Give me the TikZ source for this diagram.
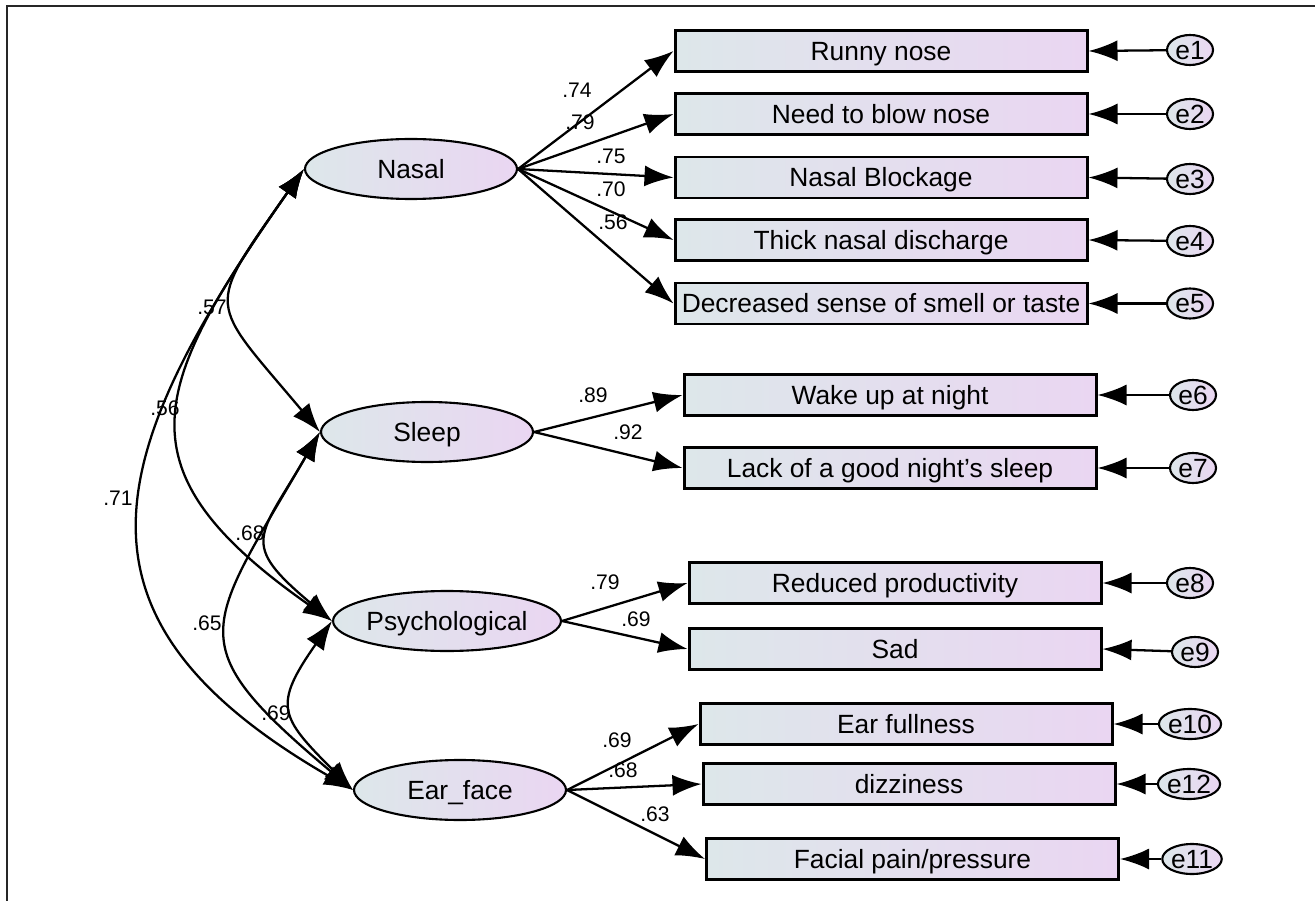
\documentclass[tikz,border=0pt]{standalone}
\usepackage{fontspec}
\setmainfont{Liberation Sans}
\usetikzlibrary{arrows.meta}
\usetikzlibrary{shapes.geometric}
\pgfdeclarelayer{edgelayer}
\pgfdeclarelayer{nodelayer}
\pgfsetlayers{edgelayer,nodelayer,main}
\definecolor{shadeleft}{RGB}{221,231,234}
\definecolor{shaderight}{RGB}{234,214,242}
\tikzstyle{none}=[inner sep=0pt]
\tikzstyle{weight}=[inner sep=0pt, font=\fontsize{12}{14}\selectfont]
\tikzstyle{latent}=[ellipse, draw=black, line width=1.2pt, minimum width=4.24cm, minimum height=1.2cm, inner sep=0pt, text height=10.7pt, text depth=0pt, left color=shadeleft, right color=shaderight, font=\fontsize{15}{18}\selectfont]
\tikzstyle{observed}=[rectangle, draw=black, line width=1.7pt, minimum width=8.24cm, minimum height=0.82cm, inner sep=0pt, text height=10.7pt, text depth=0pt, left color=shadeleft, right color=shaderight, font=\fontsize{15}{18}\selectfont]
\tikzstyle{residual}=[ellipse, draw=black, line width=1.2pt, minimum width=0.92cm, minimum height=0.6cm, inner sep=0pt, text height=10.7pt, text depth=0pt, left color=shadeleft, right color=shaderight, font=\fontsize{15}{18}\selectfont]
\tikzstyle{loading}=[-{Latex[length=0.58cm,width=0.42cm]}, draw=black, line width=1.3pt]
\tikzstyle{covariance}=[{Latex[length=0.58cm,width=0.42cm]}-{Latex[length=0.58cm,width=0.42cm]}, draw=black, line width=1.3pt]
\tikzstyle{frame}=[draw=black!85, line width=1.2pt]

\begin{document}
\begin{tikzpicture}
	\useasboundingbox (0, 0) rectangle (26.3, -18.02);
	\begin{pgfonlayer}{nodelayer}
		\node [style=latent] (0) at (8.22, -3.38) {Nasal};
		\node [style=latent] (1) at (8.54, -8.64) {Sleep};
		\node [style=latent] (2) at (8.94, -12.42) {Psychological};
		\node [style=latent] (3) at (9.2, -15.8) {Ear\_face};
		\node [style=observed] (4) at (17.62, -1.02) {Runny nose};
		\node [style=observed] (5) at (17.62, -2.28) {Need to blow nose};
		\node [style=observed] (6) at (17.62, -3.55) {Nasal Blockage};
		\node [style=observed] (7) at (17.62, -4.8) {Thick nasal discharge};
		\node [style=observed] (8) at (17.62, -6.07) {Decreased sense of smell or taste};
		\node [style=observed] (9) at (17.8, -7.9) {Wake up at night};
		\node [style=observed] (10) at (17.8, -9.36) {Lack of a good night’s sleep};
		\node [style=observed] (11) at (17.9, -11.66) {Reduced productivity};
		\node [style=observed] (12) at (17.9, -12.98) {Sad};
		\node [style=observed] (13) at (18.12, -14.48) {Ear fullness};
		\node [style=observed] (14) at (18.18, -15.68) {dizziness};
		\node [style=observed] (15) at (18.25, -17.18) {Facial pain/pressure};
		\node [style=residual] (16) at (23.8, -1.0) {e1};
		\node [style=residual] (17) at (23.8, -2.28) {e2};
		\node [style=residual] (18) at (23.8, -3.58) {e3};
		\node [style=residual] (19) at (23.8, -4.82) {e4};
		\node [style=residual] (20) at (23.8, -6.07) {e5};
		\node [style=residual] (21) at (23.86, -7.9) {e6};
		\node [style=residual] (22) at (23.86, -9.36) {e7};
		\node [style=residual] (23) at (23.8, -11.66) {e8};
		\node [style=residual] (24) at (23.9, -13.04) {e9};
		\node [style=residual] (25) at (23.8, -14.48) {e10};
		\node [style=residual] (26) at (23.78, -15.68) {e12};
		\node [style=residual] (27) at (23.84, -17.18) {e11};
		\node [style=weight] (28) at (11.54, -1.8) {.74};
		\node [style=weight] (29) at (11.6, -2.44) {.79};
		\node [style=weight] (30) at (12.22, -3.12) {.75};
		\node [style=weight] (31) at (12.22, -3.78) {.70};
		\node [style=weight] (32) at (12.26, -4.44) {.56};
		\node [style=weight] (33) at (11.86, -7.9) {.89};
		\node [style=weight] (34) at (12.56, -8.64) {.92};
		\node [style=weight] (35) at (12.1, -11.64) {.79};
		\node [style=weight] (36) at (12.72, -12.38) {.69};
		\node [style=weight] (37) at (12.34, -14.8) {.69};
		\node [style=weight] (38) at (12.46, -15.4) {.68};
		\node [style=weight] (39) at (13.1, -16.28) {.63};
		\node [style=weight] (40) at (4.24, -6.14) {.57};
		\node [style=weight] (41) at (3.3, -8.16) {.56};
		\node [style=weight] (42) at (2.36, -9.96) {.71};
		\node [style=weight] (43) at (5.0, -10.66) {.68};
		\node [style=weight] (44) at (4.14, -12.46) {.65};
		\node [style=weight] (45) at (5.52, -14.26) {.69};
		\coordinate (46) at (0.14, -0.12);
		\coordinate (47) at (26.3, -0.12);
		\coordinate (48) at (0.14, -18.02);
	\end{pgfonlayer}
	\begin{pgfonlayer}{edgelayer}
		\draw [style=frame] (48) -- (46) -- (47);
		\draw [style=loading] (0.east) to (4.west);
		\draw [style=loading] (0.east) to (5.west);
		\draw [style=loading] (0.east) to (6.west);
		\draw [style=loading] (0.east) to (7.west);
		\draw [style=loading] (0.east) to (8.west);
		\draw [style=loading] (1.east) to (9.west);
		\draw [style=loading] (1.east) to (10.west);
		\draw [style=loading] (2.east) to (11.west);
		\draw [style=loading] (2.east) to (12.west);
		\draw [style=loading] (3.east) to (13.west);
		\draw [style=loading] (3.east) to (14.west);
		\draw [style=loading] (3.east) to (15.west);
		\draw [style=loading] (16) to (4.east);
		\draw [style=loading] (17) to (5.east);
		\draw [style=loading] (18) to (6.east);
		\draw [style=loading] (19) to (7.east);
		\draw [style=loading] (20) to (8.east);
		\draw [style=loading] (21) to (9.east);
		\draw [style=loading] (22) to (10.east);
		\draw [style=loading] (23) to (11.east);
		\draw [style=loading] (24) to (12.east);
		\draw [style=loading] (25) to (13.east);
		\draw [style=loading] (26) to (14.east);
		\draw [style=loading] (27) to (15.east);
		\draw [style=covariance] (0.west) to [out=235, in=130, looseness=1.7] (1.west);
		\draw [style=covariance] (0.west) to [out=235, in=145, looseness=1.5] (2.west);
		\draw [style=covariance] (0.west) to [out=235, in=150, looseness=1.43] (3.west);
		\draw [style=covariance] (1.west) to [out=240, in=140, looseness=1.65] (2.west);
		\draw [style=covariance] (1.west) to [out=240, in=140, looseness=1.63] (3.west);
		\draw [style=covariance] (2.west) to [out=235, in=135, looseness=1.56] (3.west);
	\end{pgfonlayer}
\end{tikzpicture}
\end{document}
